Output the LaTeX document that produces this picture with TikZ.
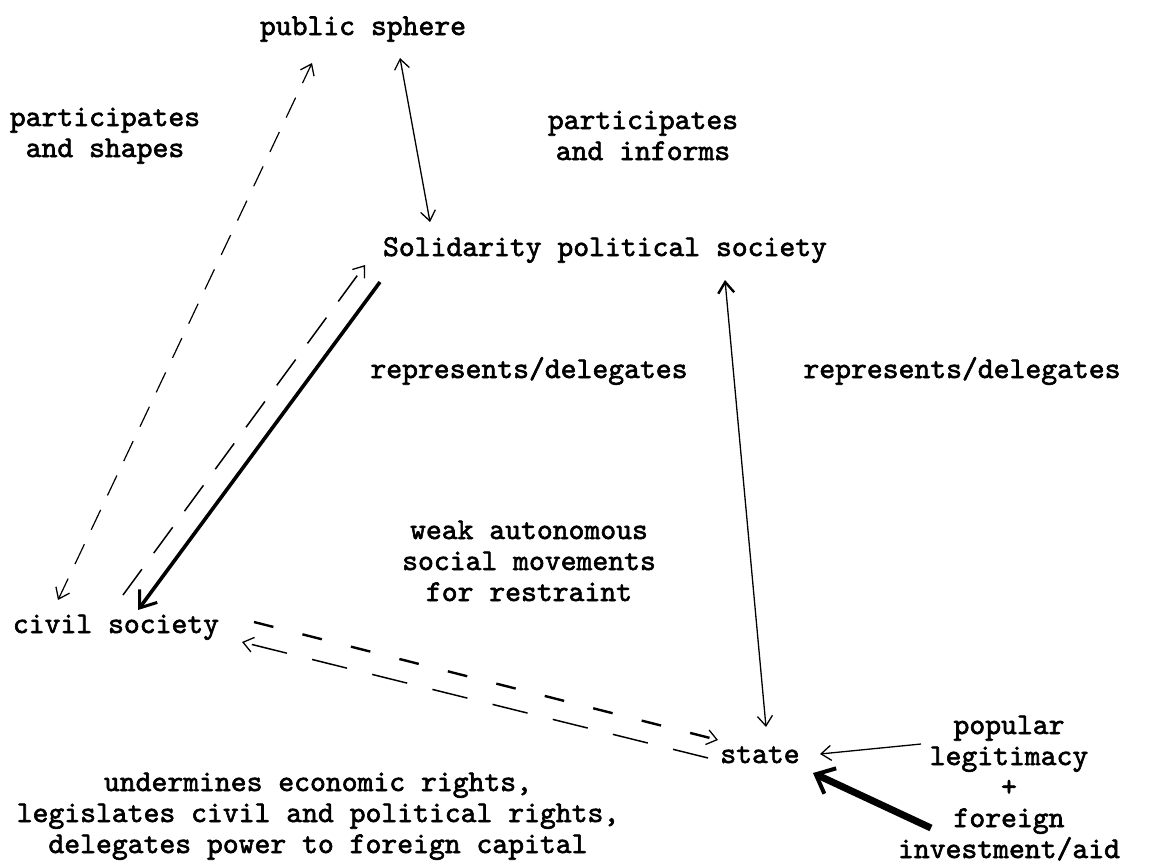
\documentclass[tikz,border=0pt]{standalone}
\usepackage{fontspec}
\newfontfamily\twfont{lmmono10-regular.otf}[FakeBold=2]
\usetikzlibrary{arrows.meta}
\tikzset{
  lbl/.style={font=\twfont\fontsize{30.2}{31}\selectfont, inner sep=0pt, align=center, anchor=base},
  barb/.style={-{Straight Barb[length=10pt,width=15pt,line width=1.3pt]}},
  dbarb/.style={{Straight Barb[length=10pt,width=15pt,line width=1.3pt]}-{Straight Barb[length=10pt,width=15pt,line width=1.3pt]}},
  thinline/.style={line width=1.3pt},
  dashA/.style={line width=1.2pt, dash pattern=on 22pt off 16pt},
  dashB/.style={line width=1.5pt, dash pattern=on 32pt off 20pt},
  dashC/.style={line width=2.4pt, dash pattern=on 20pt off 30pt},
  dashD/.style={line width=1.5pt, dash pattern=on 36pt off 26pt},
}
\begin{document}
\begin{tikzpicture}[x=1pt,y=-1pt]
\useasboundingbox (0,0) rectangle (1150,865);
% nodes (multi-line nodes are placed by the baseline of their last line)
\node[lbl] (ps) at (363,35) {public sphere};
\node[lbl] (sol) at (605,256) {Solidarity political society};
\node[lbl] (cs) at (116,633) {civil society};
\node[lbl] (st) at (760,763) {state};
\node[lbl] (pas) at (105,157) {participates\\and shapes};
\node[lbl] (pai) at (643,160) {participates\\and informs};
\node[lbl] (rd1) at (529,378) {represents/delegates};
\node[lbl] (rd2) at (962,378) {represents/delegates};
\node[lbl] (weak) at (529,601) {weak autonomous\\social movements\\for restraint};
\node[lbl] (und) at (318,853) {undermines economic rights,\\legislates civil and political rights,\\delegates power to foreign capital};
\node[lbl] (pop) at (1009,858) {popular\\legitimacy\\+\\foreign\\investment/aid};
% connectors
\draw[dashA,dbarb] ([shift={(-58,-33)}]cs.base) -- ([shift={(-51,28)}]ps.base);
\draw[thinline,dbarb] ([shift={(37,23)}]ps.base) -- ([shift={(-175,-34)}]sol.base);
\draw[dashB,barb] ([shift={(7,-38)}]cs.base) -- ([shift={(-240,9)}]sol.base);
\draw[line width=3.6pt,-{Straight Barb[length=15pt,width=22pt,line width=3pt]}] ([shift={(-225,26)}]sol.base) -- ([shift={(22,-23)}]cs.base);
\draw[thinline,{Straight Barb[length=11pt,width=16pt,line width=2.4pt]}-{Straight Barb[length=10pt,width=15pt,line width=1.3pt]}] ([shift={(120,24)}]sol.base) -- ([shift={(6,-36)}]st.base);
\draw[dashC,barb] ([shift={(138,-11)}]cs.base) -- ([shift={(-42,-23)}]st.base);
\draw[dashD,barb] ([shift={(-52,-5)}]st.base) -- ([shift={(126,9)}]cs.base);
\draw[thinline,barb] ([shift={(-88,-114)}]pop.base) -- ([shift={(60,-9)}]st.base);
\draw[line width=7pt,-{Straight Barb[length=16pt,width=28pt,line width=4pt]}] ([shift={(-78,-30)}]pop.base) -- ([shift={(53,10)}]st.base);
\end{tikzpicture}
\end{document}
